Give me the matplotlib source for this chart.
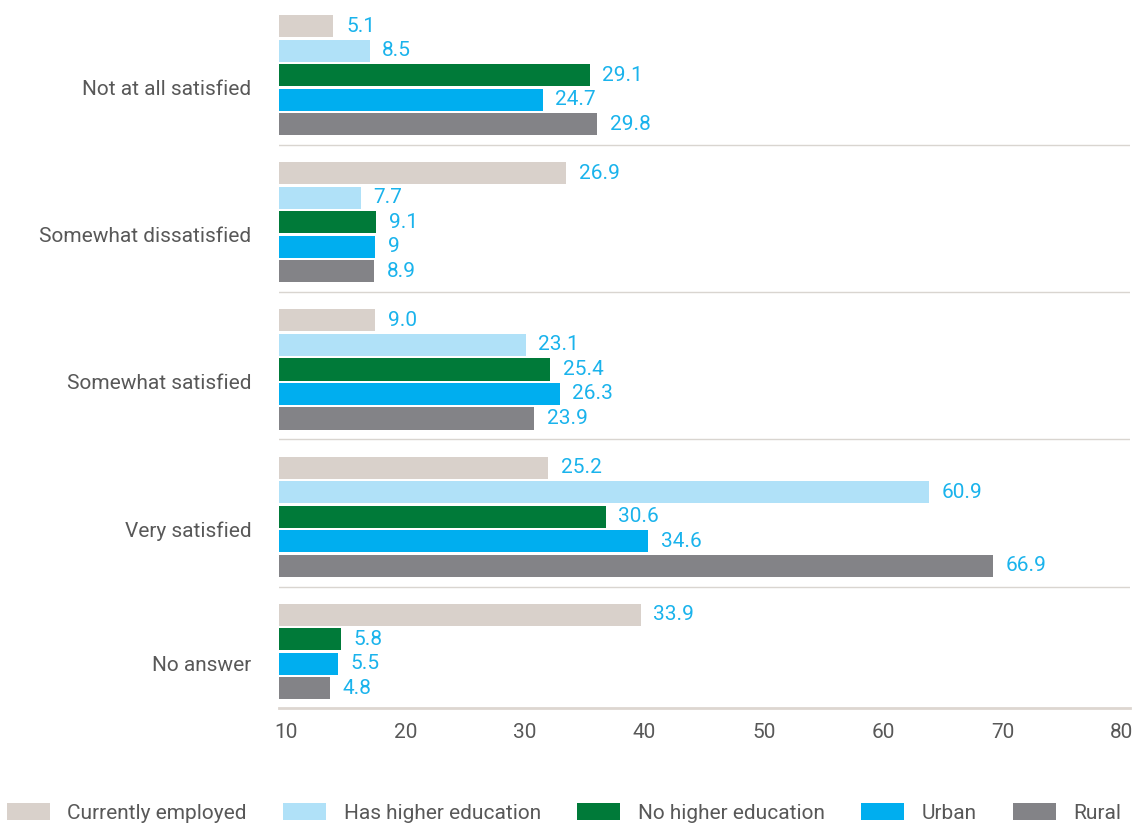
import matplotlib.pyplot as plt
from matplotlib.patches import Patch

plt.rcParams['font.family'] = ['Roboto', 'DejaVu Sans']

# -----------------------
# data
# -----------------------
categories = ["Not at all satisfied", "Somewhat dissatisfied", "Somewhat satisfied",
              "Very satisfied", "No answer"]
series = ["Currently employed", "Has higher education", "No higher education", "Urban", "Rural"]
employed = ["5.1", "26.9", "9.0", "25.2", "33.9"]
higher_edu = ["8.5", "7.7", "23.1", "60.9", None]
no_higher_edu = ["29.1", "9.1", "25.4", "30.6", "5.8"]
urban = ["24.7", "9", "26.3", "34.6", "5.5"]
rural = ["29.8", "8.9", "23.9", "66.9", "4.8"]
axis_ticks = [10, 20, 30, 40, 50, 60, 70, 80]

colors = ["#d9d1cb", "#b0e1f8", "#007a39", "#00aeef", "#838387"]
label_color = "#1ab3ec"
text_color = "#585858"
fs = 15

all_series = [employed, higher_edu, no_higher_edu, urban, rural]

fig = plt.figure(figsize=(11.38, 8.25), dpi=100)
W, H = 1138, 825
left, right, top, bottom = 279, 1130, 11.3, 708
ax = fig.add_axes([left / W, 1 - bottom / H, (right - left) / W, (bottom - top) / H])

group_pitch = 6
group_centers = []
for gi, cat in enumerate(categories):
    slot = gi * group_pitch
    ys = []
    for si, vals in enumerate(all_series):
        v = vals[gi]
        if v is None:
            continue
        ax.barh(slot, float(v), height=0.9, color=colors[si], linewidth=0)
        ax.annotate(v, (float(v), slot), xytext=(9, 0), textcoords="offset points",
                    va="center", ha="left", fontsize=fs, color=label_color)
        ys.append(slot)
        slot += 1
    group_centers.append((ys[0] + ys[-1]) / 2 + 0.5)
    if gi < len(categories) - 1:
        ax.axhline(gi * group_pitch + 4.85, color="#d9d5d0", lw=1)

ax.set_xlim(0, 79.7)
ax.set_ylim(27.8, -0.6)
ax.set_yticks(group_centers)
ax.set_yticklabels(categories, fontsize=fs, color=text_color)
ax.tick_params(axis="y", length=0, pad=20)
ax.set_xticks([])
for s in ["top", "right", "left"]:
    ax.spines[s].set_visible(False)
ax.spines["bottom"].set_color("#ddd6d0")
ax.spines["bottom"].set_linewidth(2)

# tick scale shown under the axis
ax2 = ax.twiny()
ax2.set_xlim(9.41, 80.67)
ax2.set_xticks(axis_ticks)
ax2.set_xticklabels([str(t) for t in axis_ticks], fontsize=fs, color=text_color)
ax2.xaxis.set_ticks_position("bottom")
ax2.xaxis.set_label_position("bottom")
ax2.tick_params(axis="x", length=0, pad=11)
for s in ax2.spines.values():
    s.set_visible(False)

handles = [Patch(facecolor=c, edgecolor="none") for c in colors]
leg = fig.legend(handles, series, loc="center left", bbox_to_anchor=(7 / W, 1 - 813 / H),
                 ncol=5, frameon=False, fontsize=fs, handlelength=2.05, handleheight=0.85,
                 handletextpad=0.85, columnspacing=1.75, borderaxespad=0, borderpad=0)
for t in leg.get_texts():
    t.set_color(text_color)

plt.savefig("out.png", dpi=100)
plt.close(fig)
